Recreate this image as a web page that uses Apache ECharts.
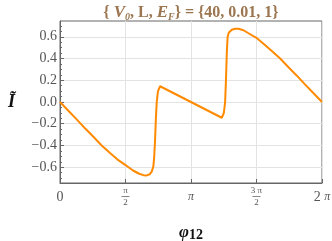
<!DOCTYPE html>
<html><head><meta charset="utf-8">
<script src="https://cdn.jsdelivr.net/npm/echarts@6/dist/echarts.min.js"></script>
<style>html,body{margin:0;padding:0;background:#fff}#c{width:332px;height:241px}</style>
</head><body><div id="c"></div>
<script>
var phi = [0, 0.2, 0.4, 0.6, 0.8, 1.0, 1.2, 1.4, 1.57, 1.75, 1.9, 2.0, 2.08, 2.15, 2.2, 2.24, 2.26, 2.28, 2.30, 2.32, 2.35, 2.40,
           3.88, 3.93, 3.96, 3.98, 4.0, 4.02, 4.05, 4.12, 4.2, 4.28, 4.4, 4.53, 4.71, 4.88, 5.08, 5.28, 5.48, 5.68, 5.88, 6.08, 6.2832];
var current = [0, -0.08, -0.16, -0.242, -0.32, -0.40, -0.47, -0.535, -0.58, -0.63, -0.66, -0.673, -0.675, -0.665, -0.64, -0.59, -0.50, -0.35, -0.15, 0.0, 0.1, 0.145,
           -0.145, -0.10, 0.0, 0.2, 0.45, 0.6, 0.64, 0.665, 0.674, 0.673, 0.66, 0.63, 0.59, 0.535, 0.47, 0.40, 0.32, 0.242, 0.16, 0.08, 0];
var xTickLabels = ['0', 'π/2', 'π', '3π/2', '2π'];
var yTicks = [-0.6, -0.4, -0.2, 0.0, 0.2, 0.4, 0.6];
var yMinorTicks = [-0.7, -0.65, -0.55, -0.5, -0.45, -0.35, -0.3, -0.25, -0.15, -0.1, -0.05, 0.05, 0.1, 0.15, 0.25, 0.3, 0.35, 0.45, 0.5, 0.55, 0.65, 0.7];

var serif = '"Liberation Serif","DejaVu Serif",serif';
var data = phi.map(function (p, i) { return [p, current[i]]; });
var chart = echarts.init(document.getElementById('c'), null, {renderer: 'canvas'});
var fracStyle = {
  n: {fontFamily: serif, fontSize: 9, color: '#555', lineHeight: 9, align: 'center'},
  b: {width: 8, height: 1, lineHeight: 2, backgroundColor: '#888', fontSize: 1, align: 'center'},
  d: {fontFamily: serif, fontSize: 9, color: '#555', lineHeight: 10, align: 'center'},
  p: {fontFamily: serif, fontSize: 12, fontStyle: 'italic', color: '#555'},
  z: {fontFamily: serif, fontSize: 14, color: '#555'}
};
function xLabel(v) {
  var k = Math.round(v / (Math.PI / 2));
  var t = xTickLabels[k];
  if (t === '0') return '{z|0}';
  if (t === 'π') return '{p|π}';
  if (t === '2π') return '{z|2 }{p|π}';
  var parts = t.split('/');
  var num = parts[0] === 'π' ? 'π' : parts[0].replace('π', ' π');
  return '{n|' + num + '}\n{b| }\n{d|' + parts[1] + '}';
}
chart.setOption({
  animation: false,
  graphic: [{
    type: 'text',
    style: {
      x: 191, y: 13, textAlign: 'center', textVerticalAlign: 'middle',
      text: '{ {i|V}{s|0}, L, {i|E}{s|F}} = {40, 0.01, 1}',
      font: 'bold 16px ' + serif, fill: '#9c7650',
      rich: {
        i: {fontFamily: serif, fontStyle: 'italic', fontWeight: 'bold', fontSize: 17, color: '#9c7650'},
        s: {fontFamily: serif, fontStyle: 'italic', fontWeight: 'bold', fontSize: 10, color: '#9c7650', verticalAlign: 'bottom', padding: [8, 0, 0, 0]}
      }
    }
  }],
  grid: {left: 60, right: 10, top: 21, bottom: 58, show: true, borderColor: '#666', borderWidth: 1, backgroundColor: 'transparent', containLabel: false, outerBoundsMode: 'none'},
  xAxis: {
    type: 'value', min: 0, max: 2 * Math.PI, interval: Math.PI / 2,
    axisLine: {onZero: false, lineStyle: {color: '#666', width: 1}},
    axisTick: {inside: true, length: 4, lineStyle: {color: '#666'}},
    splitLine: {show: true, lineStyle: {color: '#e3e3e3', width: 1}},
    axisLabel: {margin: 14, verticalAlign: 'middle', formatter: xLabel, rich: fracStyle, showMinLabel: true, showMaxLabel: true},
    name: '{f|φ}{t|12}', nameLocation: 'middle', nameGap: 50,
    nameTextStyle: {verticalAlign: 'middle', rich: {
      f: {fontFamily: serif, fontSize: 17, fontStyle: 'italic', fontWeight: 'bold', color: '#111'},
      t: {fontFamily: serif, fontSize: 14, fontWeight: 'bold', color: '#111', padding: [4, 0, 0, 0]}
    }}
  },
  yAxis: [{
    type: 'value', min: -0.745, max: 0.745,
    axisLine: {show: true, onZero: false, lineStyle: {color: '#666', width: 1}},
    axisTick: {show: true, inside: true, length: 4, lineStyle: {color: '#666'}, customValues: yTicks},
    splitLine: {show: true, lineStyle: {color: '#e3e3e3', width: 1}},
    axisLabel: {customValues: yTicks, margin: 3, fontFamily: serif, fontSize: 14, color: '#555',
      formatter: function (v) { return (v < 0 ? '−' : '') + Math.abs(v).toFixed(1); }},
    name: 'Ĩ', nameLocation: 'middle', nameGap: 45, nameRotate: 0,
    nameTextStyle: {fontFamily: serif, fontSize: 18, fontStyle: 'italic', fontWeight: 'bold', color: '#111', verticalAlign: 'middle'}
  }, {
    type: 'value', min: -0.745, max: 0.745, position: 'left',
    axisLine: {show: false},
    axisTick: {show: true, inside: true, length: 2, lineStyle: {color: '#666'}, customValues: yMinorTicks},
    splitLine: {show: false},
    axisLabel: {show: false}
  }],
  series: [{
    type: 'line', data: data, showSymbol: false, smooth: false, yAxisIndex: 0,
    lineStyle: {color: '#ff8a00', width: 2}, itemStyle: {color: '#ff8a00'}
  }]
});
</script></body></html>
